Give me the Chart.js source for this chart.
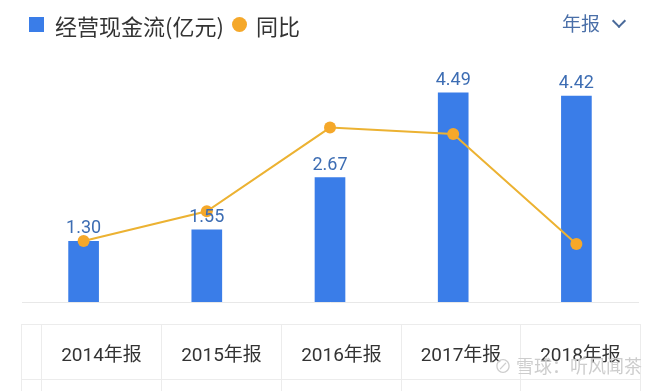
<!DOCTYPE html>
<html>
<head>
<meta charset="utf-8">
<script src="https://cdn.jsdelivr.net/npm/chart.js@4/dist/chart.umd.min.js"></script>
<style>
  html, body { margin: 0; padding: 0; background: #fff; }
  #wrap { position: relative; width: 660px; height: 391px; overflow: hidden; background: #fff;
          font-family: "Noto Sans CJK SC", "Noto Sans", sans-serif; }
  #chart { position: absolute; left: 0; top: 0; }
  .legend { position: absolute; top: 10px; height: 30px; line-height: 30px; font-size: 22px; color: #333; white-space: nowrap; }
  .sq { position: absolute; left: 29px; top: 17px; width: 15px; height: 15px; background: #3a7de8; }
  .dot { position: absolute; left: 232px; top: 17px; width: 15px; height: 15px; border-radius: 50%; background: #f5a82a; }
  .period { position: absolute; left: 562px; top: 9px; font-size: 19px; line-height: 28px; color: #4a6fa8; }
  .chev { position: absolute; left: 614px; top: 16px; width: 8px; height: 8px; border-right: 2px solid #4a6a9a; border-bottom: 2px solid #4a6a9a; transform: rotate(45deg); }
  table { position: absolute; left: 21px; top: 324px; width: 619px; border-collapse: collapse; table-layout: fixed; }
  td { border: 1px solid #ececec; padding: 0; text-align: center; font-size: 19px; color: #333;
       font-family: "Roboto", "Noto Sans CJK SC", sans-serif; }
  .wm { position: absolute; left: 494px; top: 352px; font-size: 18px; color: rgba(200,200,200,0.9); white-space: nowrap;
        font-family: "Noto Sans CJK SC", sans-serif; text-shadow: 0 0 1px #fff; }
</style>
</head>
<body>
<div id="wrap">
  <canvas id="chart" width="660" height="391"></canvas>
  <div class="sq"></div>
  <div class="legend" style="left:55px;">经营现金流(亿元)</div>
  <div class="dot"></div>
  <div class="legend" style="left:256px;">同比</div>
  <div class="period">年报</div>
  <div class="chev"></div>
  <table id="tbl"></table>
  <div class="wm">⊘ 雪球：听风闻茶</div>
</div>
<script>
const categories = ["2014年报", "2015年报", "2016年报", "2017年报", "2018年报"];
const cashFlow = [1.30, 1.55, 2.67, 4.49, 4.42];
const yoy = [0.3, 19.2, 72.3, 68.2, -1.6];
const valueLabels = ["1.30", "1.55", "2.67", "4.49", "4.42"];

// table header row built from categories
const tbl = document.getElementById('tbl');
const widths = [20, 120, 120, 120, 119, 120];
let cg = '<colgroup>' + widths.map(w => '<col style="width:' + w + 'px">').join('') + '</colgroup>';
let r1 = '<tr style="height:55px"><td></td>' + categories.map(c => '<td>' + c + '</td>').join('') + '</tr>';
let r2 = '<tr style="height:30px">' + widths.map(() => '<td></td>').join('') + '</tr>';
tbl.innerHTML = cg + r1 + r2;

const labelPlugin = {
  id: 'barLabels',
  afterDatasetsDraw(chart) {
    const ctx = chart.ctx;
    const meta = chart.getDatasetMeta(1);
    ctx.save();
    ctx.font = '18px Roboto, "DejaVu Sans", sans-serif';
    ctx.fillStyle = '#3d6db3';
    ctx.textAlign = 'center';
    ctx.textBaseline = 'alphabetic';
    meta.data.forEach((bar, i) => {
      ctx.fillText(valueLabels[i], bar.x, bar.y - 8);
    });
    ctx.restore();
  }
};

new Chart(document.getElementById('chart'), {
  data: {
    labels: categories,
    datasets: [
      {
        type: 'line',
        label: '同比',
        data: yoy,
        yAxisID: 'y1',
        borderColor: '#ecb232',
        borderWidth: 2,
        pointRadius: 6,
        pointBackgroundColor: '#f5a82a',
        pointBorderColor: '#f5a82a',
        pointBorderWidth: 0,
        tension: 0,
        order: 0
      },
      {
        type: 'bar',
        label: '经营现金流(亿元)',
        data: cashFlow,
        yAxisID: 'y',
        backgroundColor: '#3a7de8',
        barThickness: 30,
        order: 1
      }
    ]
  },
  options: {
    responsive: false,
    animation: false,
    events: [],
    layout: { padding: { left: 22, right: 22, top: 69, bottom: 89 } },
    plugins: { legend: { display: false }, tooltip: { enabled: false } },
    scales: {
      x: {
        offset: true,
        grid: { display: false, drawTicks: false },
        ticks: { display: false },
        border: { display: true, color: '#e8e8e8', width: 1 }
      },
      y: { display: false, min: 0, max: 5 },
      y1: { display: false, min: -38.4, max: 109.5 }
    }
  },
  plugins: [labelPlugin]
});
</script>
</body>
</html>
